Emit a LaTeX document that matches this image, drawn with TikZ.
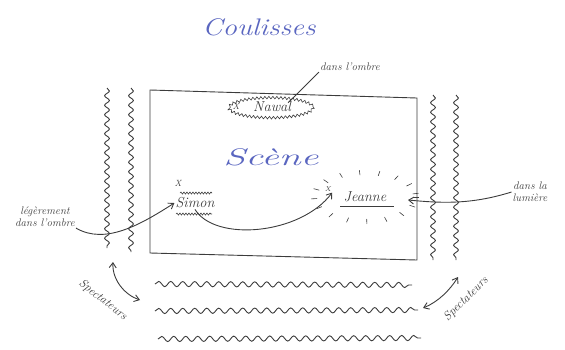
\documentclass[tikz,border=0pt]{standalone}
\usetikzlibrary{decorations.pathmorphing,arrows.meta,calc}
\definecolor{inkc}{HTML}{3C3C3C}
\definecolor{bluec}{HTML}{5A66C0}
\begin{document}
\begin{tikzpicture}[x=1pt,y=-1pt,
  inkline/.style={draw=inkc, line width=0.9pt},
  wave/.style={inkline, decorate, decoration={snake, amplitude=2.4pt, segment length=9.5pt}},
  rowwave/.style={inkline, decorate, decoration={snake, amplitude=2.6pt, segment length=12pt}},
  smallwave/.style={inkline, line width=0.6pt, decorate, decoration={snake, amplitude=1pt, segment length=3pt}},
  lbl/.style={text=inkc, font=\itshape\fontsize{11}{12}\selectfont, align=center, inner sep=1pt},
  person/.style={text=inkc, font=\itshape\Large, inner sep=1pt},
  bigblue/.style={text=bluec, font=\itshape\fontsize{24}{26}\selectfont, inner sep=1pt},
  arr/.style={inkline, -{Straight Barb[length=5pt,width=7pt]}},
  darr/.style={inkline, {Straight Barb[length=5pt,width=7pt]}-{Straight Barb[length=5pt,width=7pt]}}
]
\useasboundingbox (0,0) rectangle (565,349);

% titles
\node[bigblue] (coulisses) at (259,27) {\scalebox{1.2}[1]{Coulisses}};
\node[bigblue] (scene) at (271,157) {\scalebox{1.65}[1]{Scène}};

% stage
\draw[inkline] (150,90) -- (417,98) -- (417,260) -- (150,253) -- cycle;

% side waves (curtains / coulisses)
\coordinate (lw1a) at (107,88);  \coordinate (lw1b) at (107,248);
\coordinate (lw2a) at (131,88);  \coordinate (lw2b) at (131,252);
\coordinate (rw1a) at (433,95);  \coordinate (rw1b) at (433,260);
\coordinate (rw2a) at (456,95);  \coordinate (rw2b) at (456,260);
\draw[wave] (lw1a) -- (lw1b);
\draw[wave] (lw2a) -- (lw2b);
\draw[wave] (rw1a) -- (rw1b);
\draw[wave] (rw2a) -- (rw2b);

% audience rows
\coordinate (b1a) at (155,284); \coordinate (b1b) at (412,285);
\coordinate (b2a) at (155,311); \coordinate (b2b) at (418,310);
\coordinate (b3a) at (158,339); \coordinate (b3b) at (421,338);
\draw[rowwave] (b1a) -- (b1b);
\draw[rowwave] (b2a) -- (b2b);
\draw[rowwave] (b3a) -- (b3b);

% Nawal
\draw[inkline, line width=0.6pt, decorate, decoration={snake, amplitude=1.3pt, segment length=4pt}] (271,107) ellipse (42 and 10);
\node[person, font=\itshape\small] (nawalX) at (236,106) {X};
\node[person] (nawal) at (272,107) {Nawal};
\node[lbl] (ombreN) at (350,67) {dans l'ombre};
\draw[inkline] ($(nawal.north east)+(-4,2)$) coordinate (nawalTop) -- (ombreN.south west);

% Simon
\node[person, font=\itshape\small] (simonX) at (178,183) {X};
\node[person] (simon) at (195,203) {Simon};
\draw[smallwave] (180,193) -- (212,193);
\draw[smallwave] (176,214) -- (212,214);
\node[lbl] (ombreS) at (45,217) {légèrement\\dans l'ombre};

% Jeanne
\node[person, font=\itshape\scriptsize] (jeanneX) at (328,189) {X};
\node[person] (jeanne) at (365,197) {Jeanne};
\draw[inkline, line width=0.6pt] (340,206) -- (394,206);
\foreach \a in {0,22,...,359}{
  \draw[inkline, line width=0.6pt] ($(365,197)+({48*cos(\a)},{22*sin(\a)})$) -- ($(365,197)+({54*cos(\a)},{27*sin(\a)})$);
}
\node[lbl] (lumiere) at (530,192) {dans la\\lumière};
\coordinate (jright) at (408,200);

% arrows
\draw[arr] (ombreS.south east) .. controls (105,245) and (140,225) .. (simon.west);
\draw[arr] (simon.south) .. controls (215,242) and (300,235) .. (jeanneX.south east);
\draw[arr] (lumiere.west) .. controls (470,205) and (440,203) .. (jright);

% spectateurs
\node[lbl, rotate=-38, font=\itshape\fontsize{12}{13}\selectfont] (specL) at (103,300) {Spectateurs};
\node[lbl, rotate=45, font=\itshape\fontsize{12}{13}\selectfont] (specR) at (466,299) {Spectateurs};
\coordinate (dl1) at (113,262); \coordinate (dl2) at (140,300);
\coordinate (dr1) at (458,277); \coordinate (dr2) at (423,308);
\draw[darr] (dl1) .. controls (112,280) and (125,295) .. (dl2);
\draw[darr] (dr1) .. controls (450,290) and (438,302) .. (dr2);
\end{tikzpicture}
\end{document}
